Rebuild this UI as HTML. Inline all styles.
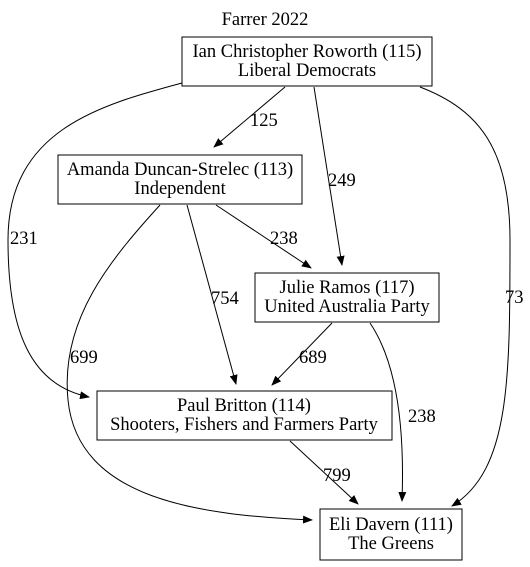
<!DOCTYPE html>
<html><head><meta charset="utf-8"><style>
html,body{margin:0;padding:0;background:#fff;}
svg{display:block;}
text{font-family:"Liberation Serif","Times New Roman",serif;font-size:18.5px;fill:#000;}
</style></head><body>
<svg width="530" height="567" viewBox="0 0 530 567" xmlns="http://www.w3.org/2000/svg">
<defs><marker id="a" markerWidth="10" markerHeight="8" refX="9" refY="4" orient="auto" markerUnits="userSpaceOnUse"><path d="M0,0 L10,4 L0,8 Z" fill="#000"/></marker></defs>
<text x="265" y="25" text-anchor="middle">Farrer 2022</text>
<g fill="none" stroke="#000" stroke-width="1">
<rect x="182" y="37" width="250" height="49"/>
<rect x="58" y="155" width="244" height="49"/>
<rect x="255" y="273" width="184" height="49"/>
<rect x="97" y="391" width="295" height="49"/>
<rect x="320" y="509" width="142" height="51"/>
<path d="M285,87 L214,147" marker-end="url(#a)"/>
<path d="M314,87 L342,265" marker-end="url(#a)"/>
<path d="M182,83 C100,105 8,130 8,240 C8,330 30,385 89,397" marker-end="url(#a)"/>
<path d="M420,87 C480,110 510,150 510,240 C510,380 510,470 452,506" marker-end="url(#a)"/>
<path d="M216,205 L311,268" marker-end="url(#a)"/>
<path d="M187,205 L236,384" marker-end="url(#a)"/>
<path d="M160,205 C110,260 60,320 68,400 C78,500 200,515 312,520" marker-end="url(#a)"/>
<path d="M332,323 L272,385" marker-end="url(#a)"/>
<path d="M370,323 C395,360 405,420 402,501" marker-end="url(#a)"/>
<path d="M290,441 L358,504" marker-end="url(#a)"/>
</g>
<text x="307" y="57" text-anchor="middle">Ian Christopher Roworth (115)</text>
<text x="307" y="76" text-anchor="middle">Liberal Democrats</text>
<text x="180" y="175" text-anchor="middle">Amanda Duncan-Strelec (113)</text>
<text x="180" y="194" text-anchor="middle">Independent</text>
<text x="347" y="293" text-anchor="middle">Julie Ramos (117)</text>
<text x="347" y="312" text-anchor="middle">United Australia Party</text>
<text x="244" y="411" text-anchor="middle">Paul Britton (114)</text>
<text x="244" y="430" text-anchor="middle">Shooters, Fishers and Farmers Party</text>
<text x="391" y="530" text-anchor="middle">Eli Davern (111)</text>
<text x="391" y="549" text-anchor="middle">The Greens</text>
<text x="250" y="126">125</text>
<text x="328" y="186">249</text>
<text x="10" y="244">231</text>
<text x="505" y="303">73</text>
<text x="270" y="244">238</text>
<text x="211" y="304">754</text>
<text x="70" y="363">699</text>
<text x="299" y="363">689</text>
<text x="408" y="422">238</text>
<text x="323" y="481">799</text>
</svg>
</body></html>
